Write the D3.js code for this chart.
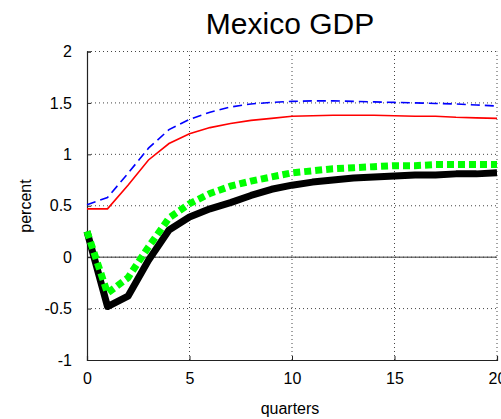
<!DOCTYPE html>
<html>
<head>
<meta charset="utf-8">
<script src="https://cdn.jsdelivr.net/npm/d3@7"></script>
<style>
  body { margin: 0; background: #fff; }
  svg { display: block; font-family: "Liberation Sans", Arial, sans-serif; }
</style>
</head>
<body>
<svg id="chart"></svg>
<script>
// quarters 0..20
const quarters = d3.range(0, 21);
const blueSeries = [0.51, 0.58, 0.815, 1.06, 1.24, 1.34, 1.41, 1.46, 1.49, 1.505, 1.515, 1.52, 1.52, 1.515, 1.51, 1.505, 1.50, 1.495, 1.49, 1.48, 1.47];
const redSeries = [0.47, 0.47, 0.70, 0.945, 1.105, 1.20, 1.26, 1.30, 1.33, 1.35, 1.37, 1.375, 1.38, 1.38, 1.38, 1.375, 1.37, 1.37, 1.36, 1.355, 1.35];
const greenSeries = [0.25, -0.35, -0.20, 0.10, 0.38, 0.52, 0.62, 0.69, 0.74, 0.78, 0.82, 0.84, 0.86, 0.87, 0.88, 0.89, 0.89, 0.90, 0.90, 0.90, 0.90];
const blackSeries = [0.25, -0.48, -0.38, -0.03, 0.265, 0.39, 0.47, 0.53, 0.60, 0.66, 0.70, 0.73, 0.75, 0.77, 0.78, 0.79, 0.80, 0.80, 0.81, 0.81, 0.82];
const xTicks = [0, 5, 10, 15, 20];
const yTicks = [-1, -0.5, 0, 0.5, 1, 1.5, 2];

const width = 501, height = 419;
const margin = { top: 51.5, right: 4, bottom: 59, left: 87 };

const svg = d3.select('#chart').attr('width', width).attr('height', height);

const xscale = d3.scaleLinear().domain([0, 20]).range([margin.left, width - margin.right]);
const yscale = d3.scaleLinear().domain([-1, 2]).range([height - margin.bottom, margin.top]);

// 点線グリッド
svg.append('g').selectAll('line')
    .data(yTicks.filter(d => d !== -1))
    .enter().append('line')
    .attr('x1', xscale(0)).attr('x2', xscale(20))
    .attr('y1', d => yscale(d)).attr('y2', d => yscale(d))
    .attr('stroke', '#444').attr('stroke-width', 1)
    .attr('stroke-dasharray', '1,3');

svg.append('g').selectAll('line')
    .data(xTicks.filter(d => d !== 0))
    .enter().append('line')
    .attr('x1', d => xscale(d)).attr('x2', d => xscale(d))
    .attr('y1', yscale(-1)).attr('y2', yscale(2))
    .attr('stroke', '#444').attr('stroke-width', 1)
    .attr('stroke-dasharray', '1,3');

// ゼロライン
svg.append('line')
    .attr('x1', xscale(0)).attr('x2', xscale(20))
    .attr('y1', yscale(0)).attr('y2', yscale(0))
    .attr('stroke', '#333').attr('stroke-width', 1);

// 軸
const xaxis = d3.axisBottom(xscale).tickValues(xTicks).tickSize(-4).tickPadding(13).tickFormat(d3.format('d'));
const yaxis = d3.axisLeft(yscale).tickValues(yTicks).tickSize(-4).tickPadding(15).tickFormat(d => d);

const gx = svg.append('g')
    .attr('transform', `translate(0, ${yscale(-1)})`)
    .call(xaxis);
const gy = svg.append('g')
    .attr('transform', `translate(${xscale(0)}, 0)`)
    .call(yaxis);

[gx, gy].forEach(g => {
    g.select('.domain').attr('stroke', '#222').attr('stroke-width', 1.2);
    g.selectAll('.tick line').attr('stroke', '#222');
    g.selectAll('.tick text').attr('font-size', '16px').attr('fill', '#000')
        .attr('font-family', '"Liberation Sans", Arial, sans-serif');
});

// 線
const line = data => d3.line()
    .x((d, i) => xscale(quarters[i]))
    .y(d => yscale(d))(data);

svg.append('path').attr('d', line(blackSeries))
    .attr('fill', 'none').attr('stroke', '#000').attr('stroke-width', 7)
    .attr('stroke-linejoin', 'round');

svg.append('path').attr('d', line(greenSeries))
    .attr('fill', 'none').attr('stroke', '#00ff00').attr('stroke-width', 7)
    .attr('stroke-dasharray', '7,4');

svg.append('path').attr('d', line(redSeries))
    .attr('fill', 'none').attr('stroke', '#ff0000').attr('stroke-width', 1.6);

svg.append('path').attr('d', line(blueSeries))
    .attr('fill', 'none').attr('stroke', '#0000ff').attr('stroke-width', 1.6)
    .attr('stroke-dasharray', '9,5');

// タイトル・軸ラベル
svg.append('text')
    .attr('x', 290).attr('y', 34)
    .attr('text-anchor', 'middle')
    .attr('font-size', '30px')
    .text('Mexico GDP');

svg.append('text')
    .attr('x', 290).attr('y', 414)
    .attr('text-anchor', 'middle')
    .attr('font-size', '16px')
    .text('quarters');

svg.append('text')
    .attr('transform', 'rotate(-90)')
    .attr('x', -206).attr('y', 31)
    .attr('text-anchor', 'middle')
    .attr('font-size', '16px')
    .text('percent');
</script>
</body>
</html>
